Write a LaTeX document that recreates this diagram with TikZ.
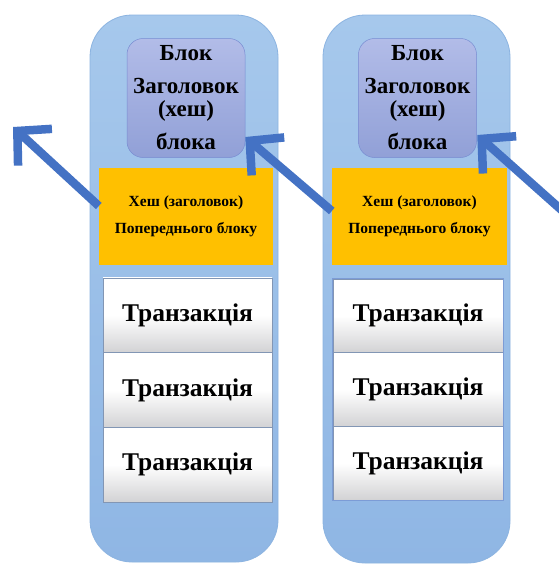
\documentclass[tikz,border=0pt]{standalone}
\usepackage{fontspec}
\setmainfont{Liberation Serif}
\usetikzlibrary{arrows.meta,calc}
\definecolor{coltop}{RGB}{166,200,236}
\definecolor{colbot}{RGB}{143,182,228}
\definecolor{colline}{RGB}{140,180,225}
\definecolor{hdtop}{RGB}{178,188,232}
\definecolor{hdbot}{RGB}{145,160,215}
\definecolor{hdline}{RGB}{120,140,210}
\definecolor{orange}{RGB}{255,192,0}
\definecolor{arrowblue}{RGB}{68,114,196}
\definecolor{txbot}{RGB}{210,210,212}
\definecolor{txline}{RGB}{130,150,180}
\tikzset{
  column/.style={draw=colline, line width=0.8pt, top color=coltop, bottom color=colbot, rounded corners=42pt, inner sep=0pt},
  header/.style={draw=hdline, line width=0.5pt, top color=hdtop, bottom color=hdbot, rounded corners=16pt,
    minimum width=118pt, minimum height=119pt, inner sep=0pt, align=center,
    font=\bfseries\fontsize{23pt}{23pt}\selectfont},
  prevhash/.style={fill=orange, minimum width=174pt, minimum height=97pt, inner sep=0pt, align=center,
    font=\bfseries\fontsize{15.5pt}{27pt}\selectfont},
  tx/.style={draw=txline, line width=0.6pt, top color=white, bottom color=txbot, middle color=white,
    minimum width=169pt, minimum height=74.7pt, inner sep=0pt,
    font=\bfseries\fontsize{25.5pt}{26pt}\selectfont},
  link/.style={draw=arrowblue, line width=8.5pt, line join=miter,
    -{Straight Barb[length=24pt, width=50pt, line width=8.5pt]}}
}
\begin{document}
\begin{tikzpicture}[x=1pt,y=-1pt]
\useasboundingbox (0,0) rectangle (559,565);
\clip (0,0) rectangle (559,565);
\fill[white] (0,0) rectangle (559,565);
% columns
\node[column, minimum width=188pt, minimum height=547pt] (c1) at (184,288.5) {};
\node[column, minimum width=187pt, minimum height=548pt] (c2) at (416.5,289) {};
% headers
\node[header] (h1) at (186,98) {Блок\\[10pt]Заголовок\\(хеш)\\[10pt]блока};
\node[header] (h2) at (417.5,98) {Блок\\[10pt]Заголовок\\(хеш)\\[10pt]блока};
% previous hash
\node[prevhash] (p1) at (186,216) {Хеш (заголовок)\\Попереднього блоку};
\node[prevhash, minimum width=175pt] (p2) at (419.5,216) {Хеш (заголовок)\\Попереднього блоку};
% transactions
\node[tx] (t11) at (187.5,315.3) {Транзакція};
\node[tx] (t12) at (187.5,390) {Транзакція};
\node[tx] (t13) at (187.5,464.7) {Транзакція};
\node[tx, minimum width=170pt, minimum height=73.7pt] (t21) at (418,315.8) {Транзакція};
\node[tx, minimum width=170pt, minimum height=73.7pt] (t22) at (418,389.5) {Транзакція};
\node[tx, minimum width=170pt, minimum height=73.7pt] (t23) at (418,463.2) {Транзакція};
\draw[draw=arrowblue!70, line width=0.8pt] (t21.north west) rectangle (t23.south east);
% arrows
\coordinate (tip0) at (13,127);
\coordinate (tail2) at (566,214);
\draw[link] ($(p1.west)+(0,-10)$) -- (tip0);
\draw[link] ($(p2.west)+(0,-5)$) -- ($(h1.east)+(0,39)$);
\draw[link] (tail2) -- ($(h2.east)+(0.5,37)$);
\end{tikzpicture}
\end{document}
